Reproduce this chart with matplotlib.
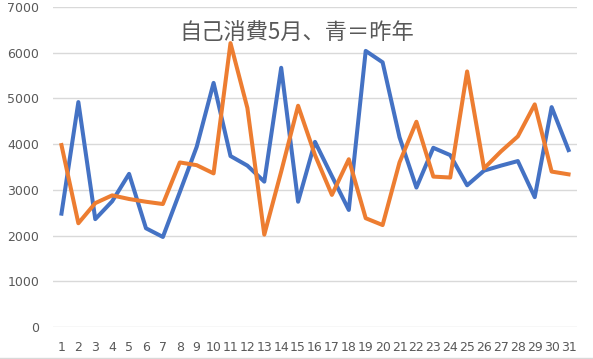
import matplotlib
matplotlib.use("Agg")
import matplotlib.pyplot as plt

days = [str(i) for i in range(1, 32)]
last_year = [2480, 4920, 2360, 2750, 3350, 2160, 1970, 2950, 3940, 5340,
             3740, 3530, 3180, 5670, 2740, 4050, 3300, 2560, 6040, 5790,
             4150, 3050, 3920, 3760, 3100, 3420, 3530, 3630, 2840, 4810, 3870]
this_year = [3980, 2270, 2710, 2880, 2800, 2740, 2690, 3600, 3540, 3360,
             6210, 4790, 2020, 3400, 4840, 3760, 2890, 3670, 2380, 2230,
             3600, 4490, 3290, 3270, 5590, 3470, 3840, 4170, 4870, 3400, 3340]
yticks = [0, 1000, 2000, 3000, 4000, 5000, 6000, 7000]
title = "自己消費5月、青＝昨年"

plt.rcParams['font.family'] = ['Noto Sans CJK JP', 'DejaVu Sans']

fig = plt.figure(figsize=(5.93, 3.59), dpi=100)
ax = fig.add_axes([0.0894, 0.0891, 0.973 - 0.0894, 0.9805 - 0.0891])

x = list(range(len(days)))
ax.plot(x, last_year, color='#4472C4', lw=2.9, solid_joinstyle='round', zorder=3)
ax.plot(x, this_year, color='#ED7D31', lw=2.9, solid_joinstyle='round', zorder=3)

ax.set_xlim(-0.5, len(days) - 0.5)
ax.set_ylim(0, 7000)
ax.set_yticks(yticks)
ax.set_yticklabels([str(v) for v in yticks])
ax.set_xticks(x)
ax.set_xticklabels(days)
ax.grid(axis='y', color='#D9D9D9', lw=1)
ax.set_axisbelow(True)
for s in ax.spines.values():
    s.set_visible(False)
ax.tick_params(axis='both', length=0, colors='#595959', labelsize=9)
for lab in ax.get_xticklabels() + ax.get_yticklabels():
    lab.set_family('DejaVu Sans')
ax.tick_params(axis='x', pad=10)
ax.tick_params(axis='y', pad=10)

fig.text(0.5, 0.908, title, ha='center', va='center', fontsize=16, color='#595959')
fig.add_artist(plt.Line2D([0, 1], [0.003, 0.003], color='#D9D9D9', lw=1, transform=fig.transFigure))

fig.savefig('out.png', dpi=100)
